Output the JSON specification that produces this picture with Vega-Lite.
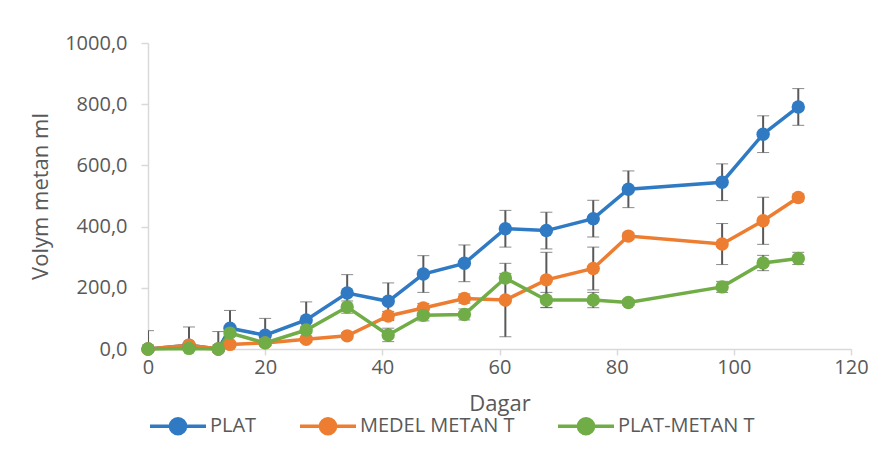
{
  "$schema": "https://vega.github.io/schema/vega-lite/v6.json",
  "width": 703,
  "height": 306,
  "autosize": "none",
  "padding": {"left": 148, "top": 43, "right": 34, "bottom": 106},
  "background": "white",
  "config": {
    "font": "Open Sans",
    "view": {"stroke": null},
    "axis": {
      "domainColor": "#d9d9d9",
      "domainWidth": 1.5,
      "tickColor": "#d9d9d9",
      "tickWidth": 1.5,
      "grid": false,
      "labelColor": "#595959",
      "labelFont": "Open Sans",
      "labelFontSize": 20,
      "labelFlush": false,
      "titleColor": "#595959",
      "titleFont": "Open Sans",
      "titleFontSize": 22,
      "titleFontWeight": "normal"
    }
  },
  "data": {
    "values": [
      {"day": 0, "series": "PLAT", "v": 0, "err": 60},
      {"day": 7, "series": "PLAT", "v": 12, "err": 60},
      {"day": 12, "series": "PLAT", "v": 0, "err": 57},
      {"day": 14, "series": "PLAT", "v": 68, "err": 58},
      {"day": 20, "series": "PLAT", "v": 45, "err": 55},
      {"day": 27, "series": "PLAT", "v": 95, "err": 59},
      {"day": 34, "series": "PLAT", "v": 183, "err": 60},
      {"day": 41, "series": "PLAT", "v": 156, "err": 60},
      {"day": 47, "series": "PLAT", "v": 245, "err": 60},
      {"day": 54, "series": "PLAT", "v": 280, "err": 60},
      {"day": 61, "series": "PLAT", "v": 393, "err": 60},
      {"day": 68, "series": "PLAT", "v": 387, "err": 60},
      {"day": 76, "series": "PLAT", "v": 426, "err": 60},
      {"day": 82, "series": "PLAT", "v": 522, "err": 60},
      {"day": 98, "series": "PLAT", "v": 545, "err": 60},
      {"day": 105, "series": "PLAT", "v": 702, "err": 60},
      {"day": 111, "series": "PLAT", "v": 791, "err": 60},

      {"day": 0, "series": "MEDEL METAN T", "v": 0, "err": 0},
      {"day": 7, "series": "MEDEL METAN T", "v": 12, "err": 5},
      {"day": 12, "series": "MEDEL METAN T", "v": 0, "err": 5},
      {"day": 14, "series": "MEDEL METAN T", "v": 15, "err": 8},
      {"day": 20, "series": "MEDEL METAN T", "v": 20, "err": 8},
      {"day": 27, "series": "MEDEL METAN T", "v": 32, "err": 10},
      {"day": 34, "series": "MEDEL METAN T", "v": 43, "err": 10},
      {"day": 41, "series": "MEDEL METAN T", "v": 108, "err": 15},
      {"day": 47, "series": "MEDEL METAN T", "v": 134, "err": 15},
      {"day": 54, "series": "MEDEL METAN T", "v": 165, "err": 15},
      {"day": 61, "series": "MEDEL METAN T", "v": 160, "err": 120},
      {"day": 68, "series": "MEDEL METAN T", "v": 226, "err": 90},
      {"day": 76, "series": "MEDEL METAN T", "v": 263, "err": 70},
      {"day": 82, "series": "MEDEL METAN T", "v": 369, "err": 10},
      {"day": 98, "series": "MEDEL METAN T", "v": 343, "err": 67},
      {"day": 105, "series": "MEDEL METAN T", "v": 419, "err": 77},
      {"day": 111, "series": "MEDEL METAN T", "v": 495, "err": 12},

      {"day": 0, "series": "PLAT-METAN T", "v": 0, "err": 0},
      {"day": 7, "series": "PLAT-METAN T", "v": 2, "err": 3},
      {"day": 12, "series": "PLAT-METAN T", "v": 0, "err": 3},
      {"day": 14, "series": "PLAT-METAN T", "v": 52, "err": 10},
      {"day": 20, "series": "PLAT-METAN T", "v": 20, "err": 8},
      {"day": 27, "series": "PLAT-METAN T", "v": 62, "err": 10},
      {"day": 34, "series": "PLAT-METAN T", "v": 137, "err": 20},
      {"day": 41, "series": "PLAT-METAN T", "v": 46, "err": 22},
      {"day": 47, "series": "PLAT-METAN T", "v": 110, "err": 18},
      {"day": 54, "series": "PLAT-METAN T", "v": 113, "err": 18},
      {"day": 61, "series": "PLAT-METAN T", "v": 232, "err": 15},
      {"day": 68, "series": "PLAT-METAN T", "v": 160, "err": 25},
      {"day": 76, "series": "PLAT-METAN T", "v": 160, "err": 25},
      {"day": 82, "series": "PLAT-METAN T", "v": 152, "err": 10},
      {"day": 98, "series": "PLAT-METAN T", "v": 203, "err": 18},
      {"day": 105, "series": "PLAT-METAN T", "v": 281, "err": 25},
      {"day": 111, "series": "PLAT-METAN T", "v": 296, "err": 20}
    ]
  },
  "encoding": {
    "x": {
      "field": "day",
      "type": "quantitative",
      "scale": {"domain": [0, 120], "nice": false, "zero": false},
      "axis": {
        "title": "Dagar",
        "values": [0, 20, 40, 60, 80, 100, 120],
        "tickSize": 6,
        "labelPadding": 2,
        "titlePadding": 16
      }
    },
    "y": {
      "field": "v",
      "type": "quantitative",
      "scale": {"domain": [0, 1000], "nice": false},
      "axis": {
        "title": "Volym metan ml",
        "values": [0, 200, 400, 600, 800, 1000],
        "labelExpr": "replace(format(datum.value, '.1f'), '.', ',')",
        "tickSize": 7,
        "labelPadding": 14,
        "titlePadding": 12
      }
    },
    "color": {
      "field": "series",
      "type": "nominal",
      "sort": ["PLAT", "MEDEL METAN T", "PLAT-METAN T"],
      "scale": {
        "domain": ["PLAT", "MEDEL METAN T", "PLAT-METAN T"],
        "range": ["#2f7ac3", "#ed7d31", "#70ad47"]
      },
      "legend": {
        "title": null,
        "orient": "bottom",
        "direction": "horizontal",
        "symbolType": "M-1,0H1M0.27,0A0.27,0.27 0 1 1 -0.27,0A0.27,0.27 0 1 1 0.27,0",
        "symbolSize": 3136,
        "symbolStrokeWidth": 3.5,
        "labelFont": "Open Sans",
        "labelFontSize": 20,
        "labelColor": "#595959",
        "labelOffset": 2,
        "columnPadding": 36,
        "offset": -18,
        "encode": {
          "symbols": {
            "update": {
              "fill": {"scale": "color", "field": "value"},
              "stroke": {"scale": "color", "field": "value"},
              "opacity": {"value": 1}
            }
          }
        }
      }
    }
  },
  "layer": [
    {
      "mark": {
        "type": "errorbar",
        "clip": true,
        "ticks": {"size": 12, "color": "#595959", "strokeWidth": 2},
        "rule": {"color": "#595959", "strokeWidth": 2}
      },
      "encoding": {
        "yError": {"field": "err"},
        "color": {"value": "#595959"}
      }
    },
    {
      "mark": {"type": "line", "strokeWidth": 3.5}
    },
    {
      "mark": {"type": "point", "filled": true, "size": 180, "opacity": 1}
    }
  ]
}
